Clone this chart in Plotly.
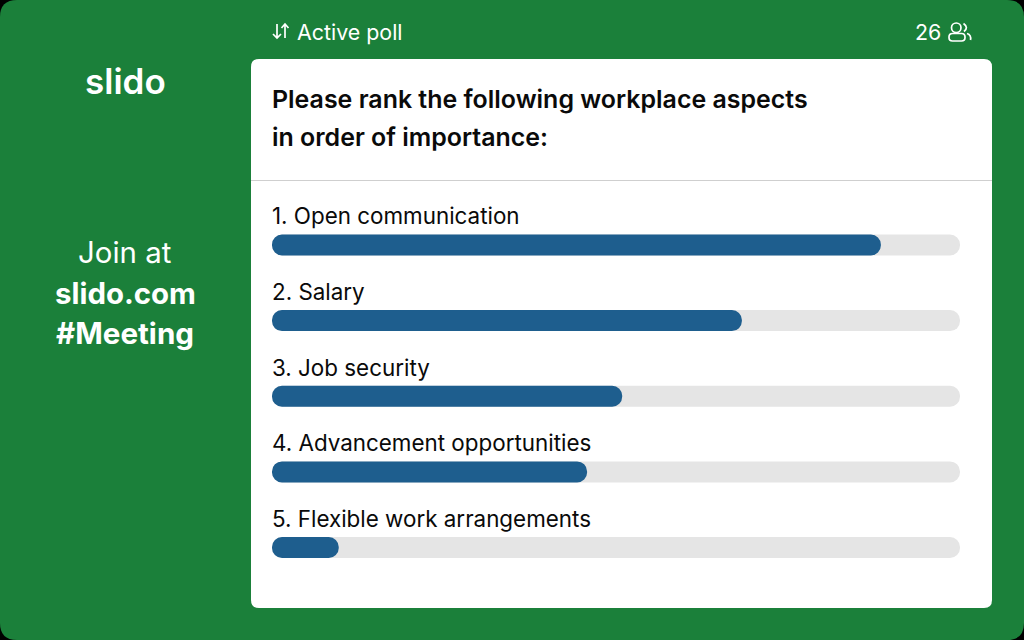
import plotly.graph_objects as go

categories = ["1. Open communication", "2. Salary", "3. Job security",
              "4. Advancement opportunities", "5. Flexible work arrangements"]
values = [88.5, 68.3, 50.9, 45.8, 9.7]
track = [100, 100, 100, 100, 100]
question = ["Please rank the following workplace aspects", "in order of importance:"]

W, H = 1024, 640
GREEN, BLUE, TRACK = "#1B803A", "#1E5E8E", "#E5E5E5"
INK = "#0A0A0A"
FONT = "Inter"

def fx(p): return p / W
def fy(p): return 1 - p / H

def rrect(x0, y0, x1, y1, r):
    return (f"M{fx(x0+r)},{fy(y0)} L{fx(x1-r)},{fy(y0)} Q{fx(x1)},{fy(y0)} {fx(x1)},{fy(y0+r)} "
            f"L{fx(x1)},{fy(y1-r)} Q{fx(x1)},{fy(y1)} {fx(x1-r)},{fy(y1)} "
            f"L{fx(x0+r)},{fy(y1)} Q{fx(x0)},{fy(y1)} {fx(x0)},{fy(y1-r)} "
            f"L{fx(x0)},{fy(y0+r)} Q{fx(x0)},{fy(y0)} {fx(x0+r)},{fy(y0)} Z")

def bar(vals, color):
    return go.Bar(x=vals, base=[0] * len(vals), y=categories, orientation="h",
                  marker=dict(color=color, cornerradius=10.5, line_width=0),
                  showlegend=False, hoverinfo="skip")

fig = go.Figure()
fig.add_trace(bar(track, TRACK))
fig.add_trace(bar(values, BLUE))

icon = dict(xref="paper", yref="paper", line=dict(color="white", width=1.7))
shapes = [
    dict(type="path", path=rrect(0, 0, W, H, 17), fillcolor=GREEN, line_width=0, xref="paper", yref="paper", layer="below"),
    dict(type="path", path=rrect(251, 59, 992, 608, 8), fillcolor="white", line_width=0, xref="paper", yref="paper", layer="below"),
    dict(type="line", x0=fx(251), x1=fx(992), y0=fy(180.5), y1=fy(180.5), xref="paper", yref="paper",
         line=dict(color="#CFCFCF", width=1), layer="below"),
    # sort arrows
    dict(type="path", path=f"M{fx(277)},{fy(24)} L{fx(277)},{fy(38)} M{fx(273)},{fy(34)} L{fx(277)},{fy(38)} L{fx(281)},{fy(34)}", **icon),
    dict(type="path", path=f"M{fx(285)},{fy(38)} L{fx(285)},{fy(24)} M{fx(281.5)},{fy(28)} L{fx(285)},{fy(24)} L{fx(288.5)},{fy(28)}", **icon),
    # people icon
    dict(type="circle", x0=fx(951.5), x1=fx(961), y0=fy(32.5), y1=fy(23), **icon),
    dict(type="path", path=rrect(949, 33.5, 965, 41, 3.5), **icon),
    dict(type="path", path=f"M{fx(963.5)},{fy(23.5)} Q{fx(969)},{fy(27.5)} {fx(964)},{fy(31.5)}", **icon),
    dict(type="path", path=f"M{fx(967)},{fy(33.5)} Q{fx(971.5)},{fy(35)} {fx(970.5)},{fy(40)}", **icon),
]

def label(text, x, y, size, color="white", weight=400, anchor="left"):
    return dict(text=text, x=fx(x), y=fy(y), xref="paper", yref="paper", xanchor=anchor, yanchor="middle",
                showarrow=False, align=anchor, font=dict(family=FONT, size=size, color=color, weight=weight))

annotations = [
    label("Active poll", 294.5, 32, 21.4),
    label("26", 912.5, 32, 21.4),
    label("slido", 125.5, 81, 35, weight=600, anchor="center"),
    label("Join at", 125, 253, 29.4, anchor="center"),
    label("slido.com", 125, 293, 29.4, weight=700, anchor="center"),
    label("#Meeting", 125, 333, 29.6, weight=700, anchor="center"),
    label(question[0], 270, 99, 24.95, color=INK, weight=600),
    label(question[1], 270, 137, 24.95, color=INK, weight=600),
]
for c in categories:
    annotations.append(dict(text=c, x=0, y=c, xref="x", yref="y", xanchor="left", yanchor="middle",
                            yshift=29, xshift=-2, showarrow=False,
                            font=dict(family=FONT, size=22.4, color=INK)))

fig.update_layout(
    width=W, height=H, autosize=False,
    margin=dict(l=0, r=0, t=0, b=0, pad=0),
    paper_bgcolor="black", plot_bgcolor="rgba(0,0,0,0)",
    barmode="overlay", bargap=0.7225,
    xaxis=dict(domain=[fx(272), fx(960)], range=[0, 100], visible=False, fixedrange=True),
    yaxis=dict(domain=[fy(585.35), fy(207.15)], range=[4.5, -0.5], type="category",
               categoryorder="array", categoryarray=categories, visible=False, fixedrange=True),
    shapes=shapes, annotations=annotations,
)
fig.write_html("out.html", config={"displayModeBar": False},
               post_script="document.body.style.margin='0';document.body.style.background='black';")
